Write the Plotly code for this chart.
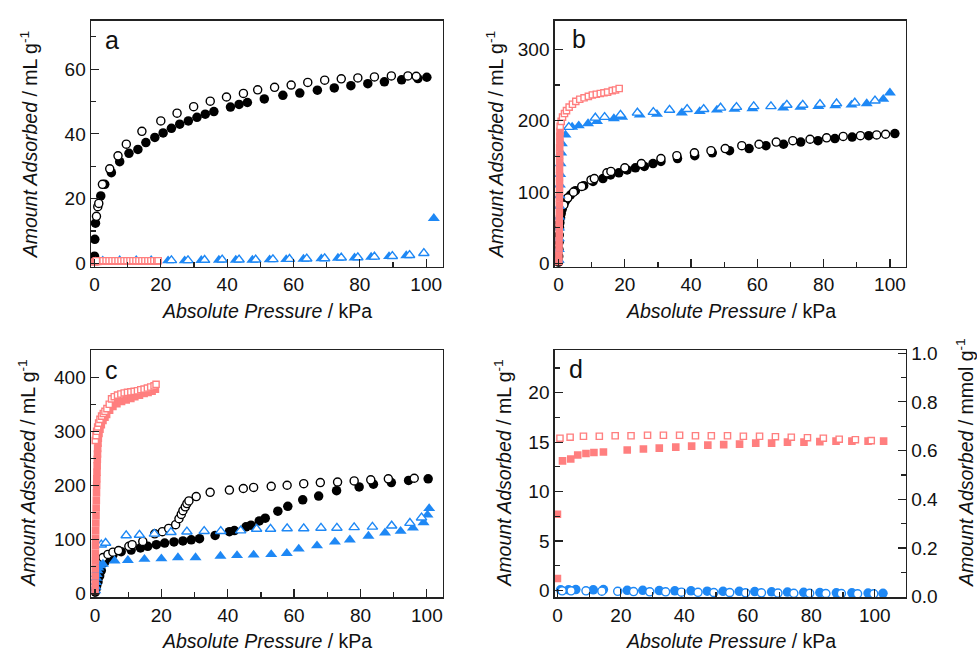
import plotly.graph_objects as go

W, H = 977, 663
BLACK = "#000000"
BLUE = "#1E88F5"
PINK = "#FF7F7F"
FONT = "Arial, Liberation Sans, sans-serif"

# ---------------- Panel a ----------------
a_black_ads_x = [0.0, 0.1, 0.3, 1.9, 3.1, 5.1, 7.6, 10.4, 13.1, 15.5, 18.2, 20.7, 23.2, 25.7, 28.3, 30.9, 33.4, 36.0, 41.0, 43.6, 46.1, 51.2, 56.8, 61.9, 67.2, 72.3, 77.3, 82.4, 87.4, 92.6, 97.5, 100.2]
a_black_ads_y = [2.2, 7.4, 12.4, 20.8, 24.4, 28.0, 31.4, 34.0, 35.2, 37.3, 38.9, 40.3, 41.7, 43.0, 44.0, 45.1, 46.1, 46.9, 48.3, 49.1, 49.7, 50.8, 51.9, 52.6, 53.5, 54.2, 54.9, 55.5, 56.1, 56.7, 57.1, 57.5]
a_black_des_x = [0.6, 1.0, 1.3, 2.4, 4.6, 7.1, 9.6, 14.3, 20.0, 24.9, 29.9, 34.9, 39.8, 44.9, 49.2, 54.3, 59.3, 64.3, 69.4, 74.4, 79.4, 84.4, 89.5, 94.5, 97.0]
a_black_des_y = [14.5, 17.5, 18.5, 24.4, 29.2, 33.2, 36.8, 40.8, 44.0, 46.4, 48.4, 50.1, 51.4, 52.5, 53.6, 54.4, 55.1, 55.9, 56.6, 57.0, 57.3, 57.6, 57.9, 57.9, 57.8]
a_blue_ads_x = [0.3, 2.5, 7.6, 12.6, 17.1, 22.2, 27.2, 32.2, 37.5, 42.6, 47.6, 52.8, 57.8, 63.0, 68.4, 73.4, 78.4, 83.4, 88.8, 94.0, 102.3]
a_blue_ads_y = [0.5, 0.8, 0.9, 0.9, 0.9, 0.8, 0.8, 0.9, 1.0, 1.0, 1.0, 1.1, 1.2, 1.3, 1.4, 1.6, 1.7, 1.9, 2.1, 2.4, 13.9]
a_blue_des_x = [23.2, 28.2, 33.2, 38.5, 43.6, 48.6, 53.8, 58.8, 64.0, 69.4, 74.4, 79.4, 84.4, 89.8, 95.0, 99.3]
a_blue_des_y = [0.9, 0.9, 1.0, 1.1, 1.1, 1.1, 1.2, 1.3, 1.4, 1.5, 1.7, 1.8, 2.0, 2.2, 2.5, 3.1]
a_pink_ads_x = [0.1, 0.5, 1.0, 2.0, 3.0, 4.0, 5.0, 6.0, 7.0, 8.0, 9.0, 10.0, 11.0, 12.0, 13.0, 14.0, 15.0, 16.0, 17.0, 18.0, 19.0]
a_pink_ads_y = [0.4, 0.6, 0.6, 0.7, 0.7, 0.7, 0.7, 0.7, 0.7, 0.7, 0.7, 0.7, 0.7, 0.7, 0.7, 0.7, 0.7, 0.7, 0.7, 0.7, 0.7]
a_pink_des_x = [0.6, 2.6, 3.5, 4.4, 5.3, 6.2, 7.1, 8.0, 8.9, 9.8, 10.7, 11.6, 12.5, 13.4, 14.3, 15.2, 16.1, 17.0, 17.9, 18.8, 19.2]
a_pink_des_y = [0.8, 0.8, 0.8, 0.8, 0.8, 0.8, 0.8, 0.8, 0.8, 0.8, 0.8, 0.8, 0.8, 0.8, 0.8, 0.8, 0.8, 0.8, 0.8, 0.8, 0.8]

# ---------------- Panel b ----------------
b_black_ads_x = [0.02, 0.05, 0.1, 0.15, 0.2, 0.3, 0.4, 0.6, 0.8, 1.1, 1.5, 2.0, 2.6, 3.6, 5.1, 7.6, 10.4, 13.4, 15.7, 18.2, 20.7, 23.2, 25.9, 28.5, 30.9, 35.9, 41.1, 46.4, 51.6, 57.5, 62.6, 67.9, 73.1, 78.3, 83.4, 88.6, 93.6, 101.5]
b_black_ads_y = [2, 10, 20, 30, 40, 50, 57, 64, 70, 76, 82, 87, 91, 96, 102, 109, 115, 119, 124, 127, 131, 134, 136, 140, 143, 147, 151, 155, 158, 161, 165, 167, 170, 172, 175, 177, 179, 182]
b_black_des_x = [1.6, 2.8, 4.5, 7.0, 9.8, 10.8, 14.6, 15.8, 20.0, 25.0, 30.9, 35.7, 41.0, 46.0, 50.3, 55.3, 60.5, 65.7, 70.7, 75.9, 80.9, 85.9, 91.1, 96.0, 98.7]
b_black_des_y = [82, 92, 100, 108, 117, 119, 127, 129, 134, 140, 147, 151, 155, 158, 161, 165, 167, 170, 172, 174, 176, 178, 179, 180, 181]
b_blue_ads_x = [0.05, 0.1, 0.15, 0.2, 0.25, 0.3, 0.35, 0.4, 0.5, 0.6, 0.8, 1.0, 2.1, 4.1, 6.1, 8.9, 11.6, 16.7, 19.2, 24.5, 29.7, 37.2, 42.6, 47.8, 53.1, 58.5, 67.8, 73.0, 78.4, 83.5, 88.4, 93.0, 98.0, 100.0]
b_blue_ads_y = [5, 20, 35, 50, 65, 80, 95, 110, 125, 140, 155, 168, 180, 191, 193, 196, 199, 203, 205, 208, 209, 211, 213, 215, 216, 217, 218, 219, 220, 221, 222, 224, 230, 239]
b_blue_des_x = [3.1, 11.1, 13.9, 18.7, 23.8, 28.6, 33.5, 38.8, 43.8, 48.9, 53.7, 58.9, 64.1, 68.9, 73.7, 78.9, 83.9, 89.4, 95.5]
b_blue_des_y = [191, 204, 205, 208, 211, 212, 215, 216, 216, 218, 219, 220, 220, 222, 222, 223, 224, 225, 228]
b_pink_ads_x = [0.1, 0.1, 0.15, 0.15, 0.2, 0.2, 0.2, 0.25, 0.25, 0.25, 0.3, 0.3, 0.3, 0.3, 0.35, 0.35, 0.35, 0.4, 0.4, 0.45]
b_pink_ads_y = [3, 12, 22, 32, 42, 52, 62, 72, 82, 92, 102, 112, 122, 132, 142, 152, 162, 170, 178, 185]
b_pink_des_x = [0.5, 0.8, 1.2, 1.8, 2.4, 3.2, 4.2, 5.2, 6.4, 7.7, 9.0, 10.2, 11.4, 12.6, 13.7, 14.8, 16.2, 17.2, 18.3]
b_pink_des_y = [192, 199, 205, 210, 214, 219, 223, 227, 230, 232, 234, 236, 237, 238, 239, 240, 242, 243, 245]

# ---------------- Panel c ----------------
c_black_ads_x = [0.1, 0.3, 0.5, 0.9, 1.4, 1.9, 2.9, 4.0, 5.4, 7.9, 10.9, 13.7, 15.9, 18.5, 21.0, 23.8, 26.5, 29.0, 31.5, 36.2, 40.5, 42.0, 45.5, 47.0, 49.5, 51.3, 55.1, 58.1, 62.6, 67.4, 72.8, 79.6, 83.9, 89.3, 94.5, 100.4]
c_black_ads_y = [2, 8, 14, 21, 32, 42, 57, 65, 71, 77, 80, 84, 87, 90, 93, 95, 97, 99, 101, 107, 114, 116, 123, 126, 134, 139, 152, 161, 173, 180, 190, 197, 202, 205, 209, 212]
c_black_des_x = [2.4, 3.9, 5.4, 7.1, 10.2, 11.2, 14.4, 18.0, 20.3, 22.2, 24.3, 25.3, 26.0, 26.5, 27.2, 27.7, 28.3, 30.5, 34.7, 40.5, 44.7, 47.8, 53.1, 57.9, 62.9, 67.9, 73.1, 78.1, 83.1, 88.4, 96.2]
c_black_des_y = [66, 72, 76, 79, 87, 90, 96, 110, 114, 120, 127, 138, 146, 153, 160, 166, 171, 179, 187, 191, 194, 196, 198, 200, 203, 205, 206, 208, 210, 212, 213]
c_blue_ads_x = [0.1, 0.2, 0.3, 0.4, 0.5, 0.7, 1.0, 1.5, 2.4, 5.9, 9.9, 14.9, 20.0, 25.0, 30.3, 37.8, 42.8, 47.8, 53.1, 57.8, 61.4, 66.9, 72.3, 76.8, 82.4, 87.4, 92.1, 95.8, 99.0, 100.2, 100.7]
c_blue_ads_y = [5, 12, 20, 28, 35, 42, 47, 51, 54, 60, 61, 63, 64, 66, 66, 69, 70, 71, 72, 74, 82, 88, 95, 99, 106, 112, 115, 121, 131, 145, 157]
c_blue_des_x = [1.9, 3.2, 9.4, 13.4, 17.9, 22.9, 27.7, 32.9, 37.9, 43.9, 48.7, 52.9, 57.9, 62.9, 68.1, 72.9, 78.1, 83.6, 89.4, 94.9, 98.4]
c_blue_des_y = [90, 93, 107, 108, 110, 113, 114, 115, 115, 116, 119, 119, 120, 120, 121, 121, 122, 123, 125, 130, 140]
c_pink_ads_x = [0.02, 0.04, 0.06, 0.08, 0.1, 0.12, 0.15, 0.18, 0.2, 0.25, 0.3, 0.35, 0.4, 0.45, 0.5, 0.55, 0.6, 0.65, 0.7, 0.75, 0.8, 0.9, 1.0, 1.2, 1.5, 1.9, 2.4, 3.0, 3.5, 4.4, 5.4, 6.6, 8.0, 9.4, 10.8, 12.0, 13.4, 14.8, 16.0, 17.2, 18.2]
c_pink_ads_y = [5, 18, 32, 46, 60, 74, 88, 102, 116, 130, 144, 158, 172, 186, 200, 212, 224, 236, 248, 258, 268, 278, 287, 296, 304, 312, 320, 326, 331, 339, 346, 351, 355, 358, 361, 364, 367, 370, 372, 374, 378]
c_pink_des_x = [0.1, 0.3, 0.5, 0.8, 1.1, 1.5, 2.0, 2.5, 3.0, 3.6, 4.3, 5.0, 5.8, 6.8, 7.8, 8.8, 9.8, 10.8, 11.8, 12.8, 13.8, 14.8, 15.8, 16.8, 17.8, 18.4]
c_pink_des_y = [283, 292, 300, 308, 315, 322, 328, 333, 337, 342, 350, 360, 364, 367, 369, 371, 372, 373, 374, 375, 377, 378, 380, 382, 384, 387]

# ---------------- Panel d ----------------
d_pink_ads_x = [0.0, 0.0, 1.6, 4.2, 6.4, 9.0, 11.5, 14.5, 22.0, 27.1, 32.1, 37.3, 42.3, 47.4, 52.4, 57.4, 62.5, 67.5, 72.5, 77.7, 82.7, 87.8, 92.8, 97.9, 102.8]
d_pink_ads_y = [1.2, 7.7, 13.1, 13.3, 13.7, 13.85, 13.95, 14.0, 14.2, 14.3, 14.4, 14.5, 14.6, 14.7, 14.75, 14.8, 14.9, 14.9, 15.0, 15.0, 15.05, 15.1, 15.1, 15.1, 15.1]
d_pink_des_x = [0.8, 4.0, 8.2, 13.2, 18.2, 23.2, 28.4, 33.4, 38.5, 43.5, 48.5, 53.6, 58.6, 63.7, 68.7, 73.7, 78.8, 83.8, 88.8, 93.9, 98.9]
d_pink_des_y = [15.4, 15.5, 15.6, 15.6, 15.65, 15.65, 15.7, 15.7, 15.7, 15.65, 15.65, 15.65, 15.6, 15.6, 15.55, 15.5, 15.45, 15.4, 15.3, 15.25, 15.15]
d_blue_ads_x = [1.0, 3.5, 5.8, 11.3, 14.5, 22.0, 26.9, 32.1, 37.0, 42.1, 47.2, 52.2, 57.3, 62.2, 67.5, 72.5, 77.6, 82.7, 87.9, 92.8, 97.9, 102.6]
d_blue_ads_y = [0.05, 0.05, 0.08, 0.05, 0.08, 0.0, 0.0, -0.02, -0.05, -0.05, -0.08, -0.1, -0.1, -0.12, -0.15, -0.17, -0.2, -0.22, -0.25, -0.25, -0.28, -0.3]
d_blue_des_x = [1.5, 4.3, 9.0, 14.0, 19.0, 24.0, 29.1, 34.1, 39.1, 44.3, 49.3, 54.3, 59.3, 64.3, 69.5, 74.5, 79.5, 84.6, 89.5, 94.6, 99.7]
d_blue_des_y = [-0.05, -0.05, -0.05, -0.08, -0.1, -0.12, -0.15, -0.15, -0.18, -0.2, -0.22, -0.22, -0.25, -0.25, -0.28, -0.3, -0.3, -0.32, -0.33, -0.35, -0.35]

fig = go.Figure()
LW = 1.4


def filled(x, y, sym, color, size, xa, ya):
    fig.add_trace(go.Scatter(x=x, y=y, mode="markers", xaxis=xa, yaxis=ya, showlegend=False,
                             marker=dict(symbol=sym, size=size, color=color, line=dict(width=0))))


def opened(x, y, sym, color, size, xa, ya):
    fig.add_trace(go.Scatter(x=x, y=y, mode="markers", xaxis=xa, yaxis=ya, showlegend=False,
                             marker=dict(symbol=sym, size=size - LW, color="white",
                                         line=dict(width=LW, color=color))))


CS, TS, SS = 9.5, 10.5, 7.6
# a
filled(a_black_ads_x, a_black_ads_y, "circle", BLACK, CS, "x", "y")
opened(a_black_des_x, a_black_des_y, "circle", BLACK, CS, "x", "y")
filled(a_blue_ads_x, a_blue_ads_y, "triangle-up", BLUE, TS, "x", "y")
opened(a_blue_des_x, a_blue_des_y, "triangle-up", BLUE, TS, "x", "y")
filled(a_pink_ads_x, a_pink_ads_y, "square", PINK, SS, "x", "y")
opened(a_pink_des_x, a_pink_des_y, "square", PINK, SS, "x", "y")
# b
filled(b_black_ads_x, b_black_ads_y, "circle", BLACK, CS, "x2", "y2")
opened(b_black_des_x, b_black_des_y, "circle", BLACK, CS, "x2", "y2")
filled(b_blue_ads_x, b_blue_ads_y, "triangle-up", BLUE, TS, "x2", "y2")
opened(b_blue_des_x, b_blue_des_y, "triangle-up", BLUE, TS, "x2", "y2")
filled(b_pink_ads_x, b_pink_ads_y, "square", PINK, SS, "x2", "y2")
opened(b_pink_des_x, b_pink_des_y, "square", PINK, SS, "x2", "y2")
# c
filled(c_black_ads_x, c_black_ads_y, "circle", BLACK, CS, "x3", "y3")
opened(c_black_des_x, c_black_des_y, "circle", BLACK, CS, "x3", "y3")
filled(c_blue_ads_x, c_blue_ads_y, "triangle-up", BLUE, TS, "x3", "y3")
opened(c_blue_des_x, c_blue_des_y, "triangle-up", BLUE, TS, "x3", "y3")
filled(c_pink_ads_x, c_pink_ads_y, "square", PINK, SS, "x3", "y3")
opened(c_pink_des_x, c_pink_des_y, "square", PINK, SS, "x3", "y3")
# d
filled(d_blue_ads_x, d_blue_ads_y, "circle", BLUE, CS, "x4", "y4")
opened(d_blue_des_x, d_blue_des_y, "circle", BLUE, CS, "x4", "y4")
filled(d_pink_ads_x, d_pink_ads_y, "square", PINK, SS, "x4", "y4")
opened(d_pink_des_x, d_pink_des_y, "square", PINK, SS, "x4", "y4")
fig.add_trace(go.Scatter(x=[None], y=[None], mode="markers", xaxis="x4", yaxis="y5",
                         showlegend=False, hoverinfo="skip"))


def px_x(p):
    return p / W


def px_y(p):
    return 1 - p / H


AX = dict(showgrid=False, zeroline=False, ticks="inside", ticklen=8, tickwidth=1.2,
          tickcolor="#222", showline=True, linecolor="#222", linewidth=1.3,
          tickfont=dict(family=FONT, size=19, color="#111"))
MINOR = dict(ticks="inside", ticklen=5, tickwidth=1.2, tickcolor="#222", tick0=0)


def xax(dom, anchor, rng):
    d = dict(AX)
    d.update(domain=dom, anchor=anchor, range=rng, mirror=True, tick0=0, dtick=20,
             minor=dict(MINOR, dtick=10))
    return d


def yax(dom, anchor, rng, dt, mdt):
    d = dict(AX)
    d.update(domain=dom, anchor=anchor, range=rng, mirror=True, tick0=0, dtick=dt,
             minor=dict(MINOR, dtick=mdt))
    return d


colL = [px_x(89), px_x(442)]
colR = [px_x(553.7), px_x(906)]
rowT = [px_y(267), px_y(14)]
rowB = [px_y(606), px_y(352.3)]

y5 = dict(AX)
y5.update(overlaying="y4", side="right", anchor="x4", range=[-0.003, 1.012], tick0=0, dtick=0.2,
          tickformat=".1f", mirror=False, minor=dict(MINOR, dtick=0.1))

fig.update_layout(
    width=W, height=H, margin=dict(l=0, r=0, t=0, b=0),
    paper_bgcolor="white", plot_bgcolor="white",
    font=dict(family=FONT, color="#111"),
    hovermode=False,
    xaxis=xax(colL, "y", [-1.1, 105.1]),
    yaxis=yax(rowT, "x", [-1.2, 75], 20, 10),
    xaxis2=xax(colR, "y2", [-1.2, 104.9]),
    yaxis2=yax(rowT, "x2", [-5, 340], 100, 50),
    xaxis3=xax(colL, "y3", [-1.26, 104.9]),
    yaxis3=yax(rowB, "x3", [-7.8, 450], 100, 50),
    xaxis4=xax(colR, "y4", [-0.9, 109.9]),
    yaxis4=yax(rowB, "x4", [-0.72, 24.3], 5, 2.5),
    yaxis5=y5,
)

ann = []
XT = "<i>Absolute Pressure</i> / kPa"
YT = "<i>Amount Adsorbed</i> / mL g<sup>-1</sup>"
YT2 = "<i>Amount Adsorbed</i> / mmol g<sup>-1</sup>"
TF = dict(family=FONT, size=19.5, color="#111")
for (cx, cy) in [(265.5, 312), (730, 312), (265.5, 651), (730, 651)]:
    ann.append(dict(text=XT, x=px_x(cx), y=px_y(cy), xref="paper", yref="paper", showarrow=False,
                    xanchor="center", yanchor="middle", font=TF))
for (cx, cy) in [(27, 141), (494, 141), (25, 478), (502, 478)]:
    ann.append(dict(text=YT, x=px_x(cx), y=px_y(cy), xref="paper", yref="paper", showarrow=False,
                    xanchor="center", yanchor="middle", textangle=-90, font=TF))
ann.append(dict(text=YT2, x=px_x(965), y=px_y(468), xref="paper", yref="paper", showarrow=False,
                xanchor="center", yanchor="middle", textangle=-90, font=TF))
LF = dict(family=FONT, size=25, color="#111")
for (t, cx, cy) in [("a", 110, 34), ("b", 578, 33), ("c", 110, 373), ("d", 575, 372)]:
    ann.append(dict(text=t, x=px_x(cx), y=px_y(cy), xref="paper", yref="paper", showarrow=False,
                    xanchor="center", yanchor="middle", font=LF))
fig.update_layout(annotations=ann)

fig.write_html("out.html", config={"displayModeBar": False, "staticPlot": True},
               post_script="document.body.style.margin='0px';document.body.style.overflow='hidden';")
